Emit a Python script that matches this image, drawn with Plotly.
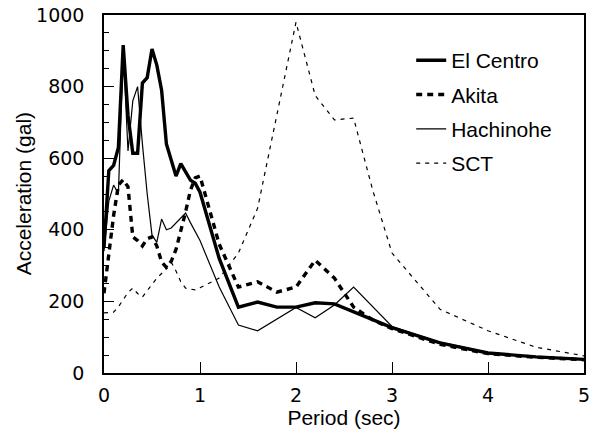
import plotly.graph_objects as go

period = [0.0, 0.05, 0.1, 0.15, 0.2, 0.25, 0.3, 0.35, 0.4, 0.45, 0.5, 0.55, 0.6, 0.65, 0.7,
          0.75, 0.8, 0.85, 0.9, 0.95, 1.0, 1.2, 1.4, 1.6, 1.8, 2.0, 2.2, 2.4, 2.6, 2.8, 3.0,
          3.5, 4.0, 4.5, 5.0]

el_centro = [350, 565, 580, 630, 916, 720, 614, 614, 810, 825, 905, 860, 790, 640, 595,
             550, 585, 560, 539, 530, 505, 320, 184, 198, 184, 184, 196, 193, 171, 149, 127,
             84, 56, 45, 38]

akita = [223, 330, 440, 525, 540, 520, 380, 370, 355, 375, 380, 355, 310, 295, 312,
         345, 395, 450, 510, 545, 550, 360, 240, 255, 226, 240, 315, 265, 184, 148, 124,
         80, 54, 44, 37]

hachinohe = [340, 480, 525, 500, 905, 620, 760, 800, 640, 500, 385, 365, 430, 400, 405,
             420, 435, 447, 420, 395, 370, 240, 134, 118, 150, 183, 154, 190, 240, 185, 130,
             86, 57, 46, 39]

sct = [168, 168, 170, 185, 205, 225, 237, 222, 212, 230, 250, 265, 278, 295, 310,
       285, 255, 237, 234, 232, 238, 265, 335, 460, 720, 980, 775, 707, 712, 510, 335,
       178, 118, 72, 48]

x_ticks = [0, 1, 2, 3, 4, 5]
y_ticks = [0, 200, 400, 600, 800, 1000]

series = [
    ("El Centro", el_centro, dict(color="black", width=3.4, dash="solid")),
    ("Akita", akita, dict(color="black", width=3.4, dash="6px,5px")),
    ("Hachinohe", hachinohe, dict(color="black", width=1.2, dash="solid")),
    ("SCT", sct, dict(color="black", width=1.2, dash="4px,5px")),
]

fig = go.Figure()
for name, vals, line in series:
    fig.add_trace(go.Scatter(x=period, y=vals, mode="lines", name=name, line=line,
                             legendgroup=name))

tick_font = dict(family="DejaVu Sans", size=19, color="black")
title_font = dict(family="Liberation Sans", size=21, color="black")
fig.update_layout(
    width=589, height=439,
    margin=dict(l=104, r=5, t=15, b=66, autoexpand=False),
    paper_bgcolor="white", plot_bgcolor="white",
    showlegend=True,
    legend=dict(x=0.64, y=0.93, xanchor="left", yanchor="top",
                font=dict(family="Liberation Sans", size=21, color="black"),
                bgcolor="rgba(0,0,0,0)", tracegroupgap=4, itemwidth=30),
    xaxis=dict(range=[0, 5], tickvals=x_ticks, ticktext=[str(v) for v in x_ticks],
               ticks="inside", ticklen=11, tickwidth=1.3, tickcolor="black",
               showline=True, linecolor="black", linewidth=1.5, mirror=True,
               showgrid=False, zeroline=False, tickfont=tick_font, ticklabelstandoff=4,
               ticklabeloverflow="allow", automargin=False,
               title=dict(text="Period (sec)", font=title_font, standoff=6)),
    yaxis=dict(range=[0, 1000], tickvals=y_ticks, ticktext=[str(v) for v in y_ticks],
               ticks="inside", ticklen=10, tickwidth=1.3, tickcolor="black",
               minor=dict(dtick=50, ticks="inside", ticklen=5, tickcolor="black", tickwidth=1),
               showline=True, linecolor="black", linewidth=1.5, mirror=True,
               showgrid=False, zeroline=False, tickfont=tick_font, ticklabelstandoff=14,
               ticklabeloverflow="allow", automargin=False),
    xaxis2=dict(range=[0, 5], tickvals=x_ticks, overlaying="x", side="top",
                ticks="inside", ticklen=8, tickwidth=1.2, tickcolor="black",
                showticklabels=False, showgrid=False, zeroline=False, showline=False,
                automargin=False),
    yaxis2=dict(range=[0, 1000], tickvals=y_ticks, overlaying="y", side="right",
                ticks="inside", ticklen=7, tickwidth=1.2, tickcolor="black",
                minor=dict(dtick=50, ticks="inside", ticklen=5, tickcolor="black", tickwidth=1),
                showticklabels=False, showgrid=False, zeroline=False, showline=False,
                automargin=False),
    annotations=[dict(text="Acceleration (gal)", xref="paper", yref="paper",
                      x=-0.168, y=0.5, xanchor="center", yanchor="middle",
                      textangle=-90, showarrow=False, font=title_font)],
)

fig.write_html("out.html")
